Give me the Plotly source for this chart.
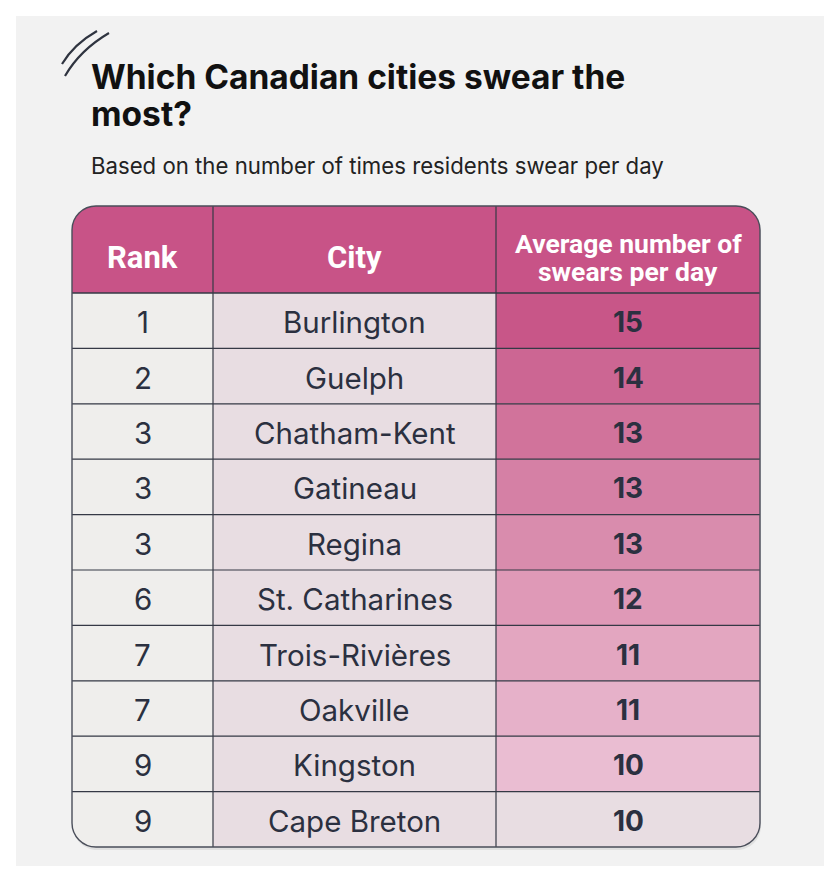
import plotly.graph_objects as go

# ---- data ----
ranks = [1, 2, 3, 3, 3, 6, 7, 7, 9, 9]
cities = ["Burlington", "Guelph", "Chatham-Kent", "Gatineau", "Regina",
          "St. Catharines", "Trois-Rivières", "Oakville", "Kingston", "Cape Breton"]
swears = [15, 14, 13, 13, 13, 12, 11, 11, 10, 10]
headers = [["Rank"], ["City"], ["Average number of", "swears per day"]]
value_colors = ["#c85688", "#cc6693", "#d1739b", "#d580a5", "#d98cad",
                "#df99b7", "#e3a6c0", "#e6b1c9", "#eabdd2", "#e8dde2"]

title_lines = ["Which Canadian cities swear the", "most?"]
subtitle = "Based on the number of times residents swear per day"

# ---- layout constants (page pixel space; body margin 8px) ----
PAGE_W, PAGE_H = 840, 882
M = 8
X_EDGES = [72, 213, 496, 760]
Y_TOP = 206
HEAD_H = 87
ROW_H = 55.4
R = 24
HEAD_COLOR = "#c85387"
RANK_BG = "#efeeec"
CITY_BG = "#e8dde2"
LINE = "#353945"
TXT = "#2b3040"

n = len(ranks)
Y_HEAD_BOT = Y_TOP + HEAD_H
Y_BOT = Y_HEAD_BOT + ROW_H * n


def rrect(x0, y0, x1, y1, tl=0, tr=0, br=0, bl=0):
    k = 0.448
    p = f"M {x0+tl},{y0} L {x1-tr},{y0} "
    if tr:
        p += f"C {x1-tr*k},{y0} {x1},{y0+tr*k} {x1},{y0+tr} "
    p += f"L {x1},{y1-br} "
    if br:
        p += f"C {x1},{y1-br*k} {x1-br*k},{y1} {x1-br},{y1} "
    p += f"L {x0+bl},{y1} "
    if bl:
        p += f"C {x0+bl*k},{y1} {x0},{y1-bl*k} {x0},{y1-bl} "
    p += f"L {x0},{y0+tl} "
    if tl:
        p += f"C {x0},{y0+tl*k} {x0+tl*k},{y0} {x0+tl},{y0} "
    return p + "Z"


shapes = []
annotations = []

# panel background
shapes.append(dict(type="rect", x0=16, y0=16, x1=824, y1=866, xref="x", yref="y",
                   fillcolor="#f2f2f2", line=dict(width=0), layer="below"))

# decorative strokes
shapes.append(dict(type="path", xref="x", yref="y",
                   path="M 62,64 Q 74,44 97,31", line=dict(color="#2f3440", width=2.2)))
shapes.append(dict(type="path", xref="x", yref="y",
                   path="M 65,76 Q 80,50 109,33", line=dict(color="#2f3440", width=2.2)))

# shadow
shapes.append(dict(type="path", xref="x", yref="y",
                   path=rrect(X_EDGES[0] + 1, Y_TOP + 3, X_EDGES[-1] + 1, Y_BOT + 3, R, R, R, R),
                   fillcolor="rgba(0,0,0,0.07)", line=dict(width=0)))

# header cells
for c in range(3):
    tl = R if c == 0 else 0
    tr = R if c == 2 else 0
    shapes.append(dict(type="path", xref="x", yref="y",
                       path=rrect(X_EDGES[c], Y_TOP, X_EDGES[c + 1], Y_HEAD_BOT, tl=tl, tr=tr),
                       fillcolor=HEAD_COLOR, line=dict(width=0)))
    lines = headers[c]
    xc = (X_EDGES[c] + X_EDGES[c + 1]) / 2
    if len(lines) == 1:
        ys = [257]
        fs = 31
    else:
        ys = [243, 271]
        fs = 26.5
    for txt, yy in zip(lines, ys):
        annotations.append(dict(x=xc, y=yy, xref="x", yref="y", text=f"<b>{txt}</b>",
                                showarrow=False,
                                font=dict(family="Roboto", size=fs, color="#ffffff"),
                                xanchor="center", yanchor="middle"))

# body cells
for i in range(n):
    y0 = Y_HEAD_BOT + ROW_H * i
    y1 = y0 + ROW_H
    last = i == n - 1
    fills = [RANK_BG, CITY_BG, value_colors[i]]
    texts = [str(ranks[i]), cities[i], f"<b>{swears[i]}</b>"]
    sizes = [29.5, 29.5, 28]
    for c in range(3):
        bl = R if (last and c == 0) else 0
        br = R if (last and c == 2) else 0
        shapes.append(dict(type="path", xref="x", yref="y",
                           path=rrect(X_EDGES[c], y0, X_EDGES[c + 1], y1, bl=bl, br=br),
                           fillcolor=fills[c], line=dict(width=0)))
        annotations.append(dict(x=(X_EDGES[c] + X_EDGES[c + 1]) / 2, y=(y0 + y1) / 2 + 1.5,
                                xref="x", yref="y", text=texts[c], showarrow=False,
                                font=dict(family="Inter", size=sizes[c], color=TXT),
                                xanchor="center", yanchor="middle"))

# grid lines
for xe in X_EDGES[1:-1]:
    shapes.append(dict(type="line", xref="x", yref="y", x0=xe, x1=xe, y0=Y_TOP, y1=Y_BOT,
                       line=dict(color=LINE, width=1.2)))
for i in range(n):
    ye = Y_HEAD_BOT + ROW_H * i
    shapes.append(dict(type="line", xref="x", yref="y", x0=X_EDGES[0], x1=X_EDGES[-1],
                       y0=ye, y1=ye, line=dict(color=LINE, width=1.4 if i == 0 else 1.2)))

# outer border
shapes.append(dict(type="path", xref="x", yref="y",
                   path=rrect(X_EDGES[0], Y_TOP, X_EDGES[-1], Y_BOT, R, R, R, R),
                   line=dict(color="#4a4e5a", width=1.4)))

# title & subtitle
for txt, yy in zip(title_lines, [77, 114]):
    annotations.append(dict(x=89, y=yy, xref="x", yref="y", text=f"<b>{txt}</b>", showarrow=False,
                            xanchor="left", yanchor="middle", align="left",
                            font=dict(family="Inter", size=33.5, color="#111111")))
annotations.append(dict(x=89, y=165, xref="x", yref="y", text=subtitle, showarrow=False,
                        xanchor="left", yanchor="middle", align="left",
                        font=dict(family="Inter", size=22.2, color="#222222")))

fig = go.Figure()
fig.update_layout(
    width=PAGE_W - 2 * M, height=PAGE_H - 2 * M,
    margin=dict(l=0, r=0, t=0, b=0),
    paper_bgcolor="#ffffff", plot_bgcolor="#ffffff",
    xaxis=dict(range=[M, PAGE_W - M], visible=False, fixedrange=True),
    yaxis=dict(range=[PAGE_H - M, M], visible=False, fixedrange=True),
    shapes=shapes, annotations=annotations, showlegend=False,
)
fig.write_html("out.html", config={"displayModeBar": False})
